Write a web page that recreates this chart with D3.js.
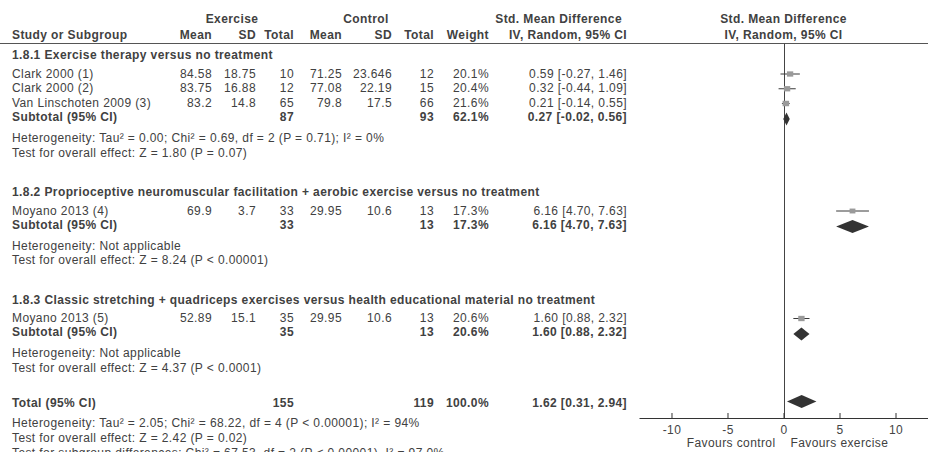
<!DOCTYPE html>
<html lang="en">
<head>
<meta charset="UTF-8">
<title>Forest plot - Std. Mean Difference</title>
<script src="https://d3js.org/d3.v7.min.js"></script>
<style>
    body { margin: 0; background: #fff; }
    svg { display: block; font-family: "Liberation Sans", Arial, sans-serif; }
    .txt { font-size: 12px; fill: #414141; letter-spacing: 0.4px; }
    .bold { font-weight: bold; }
    .axis text { font-size: 12px; fill: #444; letter-spacing: 0.4px; font-family: "Liberation Sans", Arial, sans-serif; }
    .axis path, .axis line { stroke: #333; }
</style>
</head>
<body>
<svg width="928" height="452"></svg>
<script>
    // study level data
    const studies = ["Clark 2000 (1)", "Clark 2000 (2)", "Van Linschoten 2009 (3)", "Moyano 2013 (4)", "Moyano 2013 (5)"];
    const studyGroup = [0, 0, 0, 1, 2];
    const expMean = ["84.58", "83.75", "83.2", "69.9", "52.89"];
    const expSD = ["18.75", "16.88", "14.8", "3.7", "15.1"];
    const expN = [10, 12, 65, 33, 35];
    const ctlMean = ["71.25", "77.08", "79.8", "29.95", "29.95"];
    const ctlSD = ["23.646", "22.19", "17.5", "10.6", "10.6"];
    const ctlN = [12, 15, 66, 13, 13];
    const weights = [20.1, 20.4, 21.6, 17.3, 20.6];
    const smd = [0.59, 0.32, 0.21, 6.16, 1.60];
    const ciLow = [-0.27, -0.44, -0.14, 4.70, 0.88];
    const ciHigh = [1.46, 1.09, 0.55, 7.63, 2.32];

    // subgroups
    const groupTitles = [
        "1.8.1 Exercise therapy versus no treatment",
        "1.8.2 Proprioceptive neuromuscular facilitation + aerobic exercise versus no treatment",
        "1.8.3 Classic stretching + quadriceps exercises versus health educational material no treatment"
    ];
    const groupExpN = [87, 33, 35];
    const groupCtlN = [93, 13, 13];
    const groupWeight = [62.1, 17.3, 20.6];
    const groupSmd = [0.27, 6.16, 1.60];
    const groupLow = [-0.02, 4.70, 0.88];
    const groupHigh = [0.56, 7.63, 2.32];
    const groupHet = [
        "Heterogeneity: Tau\u00b2 = 0.00; Chi\u00b2 = 0.69, df = 2 (P = 0.71); I\u00b2 = 0%",
        "Heterogeneity: Not applicable",
        "Heterogeneity: Not applicable"
    ];
    const groupTest = [
        "Test for overall effect: Z = 1.80 (P = 0.07)",
        "Test for overall effect: Z = 8.24 (P < 0.00001)",
        "Test for overall effect: Z = 4.37 (P < 0.0001)"
    ];

    // overall
    const totalExpN = 155, totalCtlN = 119, totalWeight = 100.0;
    const totalSmd = 1.62, totalLow = 0.31, totalHigh = 2.94;
    const totalNotes = [
        "Heterogeneity: Tau\u00b2 = 2.05; Chi\u00b2 = 68.22, df = 4 (P < 0.00001); I\u00b2 = 94%",
        "Test for overall effect: Z = 2.42 (P = 0.02)",
        "Test for subgroup differences: Chi\u00b2 = 67.53, df = 2 (P < 0.00001), I\u00b2 = 97.0%"
    ];

    const axisTicks = [-10, -5, 0, 5, 10];
    const favours = ["Favours control", "Favours exercise"];

    const svg = d3.select("svg");
    const f2 = v => v.toFixed(2);
    const ciText = (e, l, h) => `${f2(e)} [${f2(l)}, ${f2(h)}]`;

    // column anchors (right aligned)
    const col = { label: 12, expMean: 212, expSD: 256, expN: 294, ctlMean: 342, ctlSD: 392, ctlN: 434, weight: 489, ci: 627 };

    // build rows in order, with vertical step from the previous row
    const steps = { firstTitle: 55, title: 39.5, studyAfterTitle: 18.5, study: 14.75, subtotal: 14, het: 21, test: 14.5, total: 35, note: 15, totalHet: 20 };
    const rows = [];
    let y = 0, prev = null;
    function push(kind, data, step) { y += step; rows.push(Object.assign({ kind, y }, data)); prev = kind; }

    groupTitles.forEach((t, g) => {
        push("title", { text: t }, g === 0 ? steps.firstTitle : steps.title);
        studies.forEach((s, i) => {
            if (studyGroup[i] !== g) return;
            push("study", { i }, prev === "title" ? steps.studyAfterTitle : steps.study);
        });
        push("subtotal", { g }, steps.subtotal);
        push("note", { text: groupHet[g] }, steps.het);
        push("note", { text: groupTest[g] }, steps.test);
    });
    push("total", {}, steps.total);
    totalNotes.forEach((t, k) => push("note", { text: t }, k === 0 ? steps.totalHet : steps.note));

    // forest scale
    const x = d3.scaleLinear().domain([-12.9, 12.9]).range([639, 928]);
    const axisY = 418, headerLineY = 43.5;

    function text(xp, yp, str, anchor, bold) {
        svg.append("text")
            .attr("class", "txt" + (bold ? " bold" : ""))
            .attr("x", xp).attr("y", yp + 4)
            .attr("text-anchor", anchor)
            .text(str);
    }

    // headers
    text(232, 19, "Exercise", "middle", true);
    text(366, 19, "Control", "middle", true);
    text(622, 19, "Std. Mean Difference", "end", true);
    text(x(0), 19, "Std. Mean Difference", "middle", true);
    text(col.label, 35, "Study or Subgroup", "start", true);
    text(col.expMean, 35, "Mean", "end", true);
    text(col.expSD, 35, "SD", "end", true);
    text(col.expN, 35, "Total", "end", true);
    text(col.ctlMean, 35, "Mean", "end", true);
    text(col.ctlSD, 35, "SD", "end", true);
    text(col.ctlN, 35, "Total", "end", true);
    text(col.weight, 35, "Weight", "end", true);
    text(col.ci, 35, "IV, Random, 95% CI", "end", true);
    text(x(0), 35, "IV, Random, 95% CI", "middle", true);

    svg.append("line")
        .attr("x1", 0).attr("x2", 928)
        .attr("y1", headerLineY).attr("y2", headerLineY)
        .attr("stroke", "#555").attr("stroke-width", 1);

    // zero line
    svg.append("line")
        .attr("x1", Math.round(x(0)) + 0.5).attr("x2", Math.round(x(0)) + 0.5)
        .attr("y1", headerLineY).attr("y2", axisY)
        .attr("stroke", "#444").attr("stroke-width", 1);

    const diamond = (e, l, h, yc) => {
        const hh = 6.5;
        return `M${x(l)},${yc}L${x(e)},${yc - hh}L${x(h)},${yc}L${x(e)},${yc + hh}Z`;
    };

    rows.forEach(r => {
        if (r.kind === "title") {
            text(col.label, r.y, r.text, "start", true);
        } else if (r.kind === "note") {
            text(col.label, r.y, r.text, "start", false);
        } else if (r.kind === "study") {
            const i = r.i;
            text(col.label, r.y, studies[i], "start", false);
            text(col.expMean, r.y, expMean[i], "end", false);
            text(col.expSD, r.y, expSD[i], "end", false);
            text(col.expN, r.y, expN[i], "end", false);
            text(col.ctlMean, r.y, ctlMean[i], "end", false);
            text(col.ctlSD, r.y, ctlSD[i], "end", false);
            text(col.ctlN, r.y, ctlN[i], "end", false);
            text(col.weight, r.y, weights[i].toFixed(1) + "%", "end", false);
            text(col.ci, r.y, ciText(smd[i], ciLow[i], ciHigh[i]), "end", false);
            // CI whisker + weighted square
            svg.append("line")
                .attr("x1", x(ciLow[i])).attr("x2", x(ciHigh[i]))
                .attr("y1", r.y + 0.5).attr("y2", r.y + 0.5)
                .attr("stroke", "#3a3a3a").attr("stroke-width", 1);
            const s = Math.sqrt(weights[i]) * 1.4;
            svg.append("rect")
                .attr("x", x(smd[i]) - s / 2).attr("y", r.y + 0.5 - s * 0.42)
                .attr("width", s).attr("height", s * 0.84)
                .attr("fill", "#9a9a9a");
        } else if (r.kind === "subtotal") {
            const g = r.g;
            text(col.label, r.y, "Subtotal (95% CI)", "start", true);
            text(col.expN, r.y, groupExpN[g], "end", true);
            text(col.ctlN, r.y, groupCtlN[g], "end", true);
            text(col.weight, r.y, groupWeight[g].toFixed(1) + "%", "end", true);
            text(col.ci, r.y, ciText(groupSmd[g], groupLow[g], groupHigh[g]), "end", true);
            svg.append("path")
                .attr("d", diamond(groupSmd[g], groupLow[g], groupHigh[g], r.y + 2))
                .attr("fill", "#333");
        } else if (r.kind === "total") {
            text(col.label, r.y, "Total (95% CI)", "start", true);
            text(col.expN, r.y, totalExpN, "end", true);
            text(col.ctlN, r.y, totalCtlN, "end", true);
            text(col.weight, r.y, totalWeight.toFixed(1) + "%", "end", true);
            text(col.ci, r.y, ciText(totalSmd, totalLow, totalHigh), "end", true);
            svg.append("path")
                .attr("d", diamond(totalSmd, totalLow, totalHigh, r.y - 1))
                .attr("fill", "#333");
        }
    });

    // x axis with ticks pointing up
    svg.append("g")
        .attr("class", "axis")
        .attr("transform", `translate(0, ${axisY})`)
        .call(d3.axisBottom(x).tickValues(axisTicks).tickSizeInner(-5).tickSizeOuter(0).tickPadding(7).tickFormat(d => String(d)));

    // favours labels
    svg.append("text").attr("class", "txt")
        .attr("x", x(0) - 8).attr("y", 447)
        .attr("text-anchor", "end").text(favours[0]);
    svg.append("text").attr("class", "txt")
        .attr("x", x(0) + 7).attr("y", 447)
        .attr("text-anchor", "start").text(favours[1]);
</script>
</body>
</html>
